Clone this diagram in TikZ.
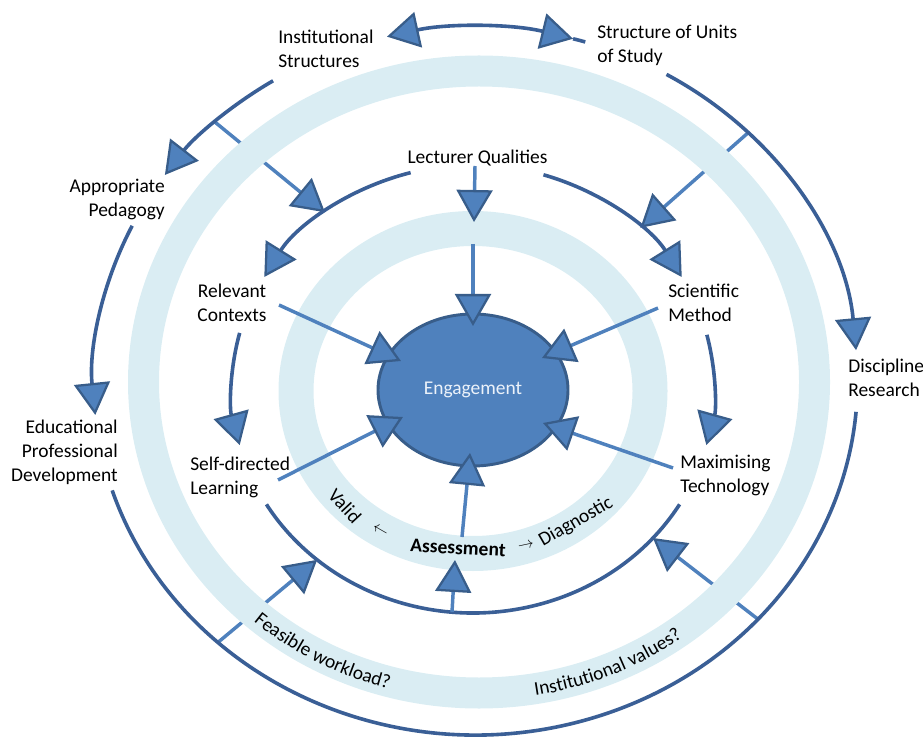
\documentclass[tikz,border=0pt]{standalone}
\usepackage{fontspec}
\setmainfont{Carlito}
\usetikzlibrary{arrows.meta,decorations.text,calc,shapes.geometric}
\definecolor{ringc}{RGB}{58,95,150}
\definecolor{acc}{RGB}{79,129,189}
\definecolor{tipc}{RGB}{56,93,138}
\definecolor{bandc}{RGB}{218,237,243}
\definecolor{engtxt}{RGB}{236,242,250}
\newcommand{\lblfont}{\fontsize{14.6}{18}\selectfont}
\tikzset{
  ring/.style={draw=ringc, line width=2.7pt},
  conn/.style={draw=acc, line width=2.6pt},
  tipd/.style={-{Triangle[length=24pt,width=27pt,fill=acc,color=tipc,line width=1.7pt]}},
  tipdd/.style={{Triangle[length=24pt,width=27pt,fill=acc,color=tipc,line width=1.7pt]}-{Triangle[length=24pt,width=27pt,fill=acc,color=tipc,line width=1.7pt]}},
  lbl/.style={font=\lblfont, inner sep=0pt, text=black},
  bandtext/.style={decorate, decoration={text along path, text align=center, text={|\lblfont|#1}}},
}
\begin{document}
\begin{tikzpicture}[x=0.75pt,y=-0.75pt]
\useasboundingbox (0,0) rectangle (923,737);
% centres of the rings
\coordinate (O1) at (475.5,381);
\coordinate (OB) at (479,382);
\coordinate (M)  at (473,389);
\coordinate (IB) at (473,391);

% tick connectors from the outer ring to the middle ring (under the outer band)
\coordinate (t1a) at ($(O1)+(-133:382 and 354)$);
\coordinate (t1d) at ($(M)+(-127.9:241 and 224)$);
\coordinate (t2a) at ($(O1)+(-44.5:382 and 354)$);
\coordinate (t2d) at ($(M)+(-46:241 and 224)$);
\coordinate (t3a) at ($(O1)+(132.4:382 and 354)$);
\coordinate (t3d) at ($(M)+(130.3:241 and 224)$);
\coordinate (t4a) at ($(O1)+(42.3:382 and 354)$);
\coordinate (t4d) at ($(M)+(41.7:241 and 224)$);
\draw[conn, tipd] (t1a) -- (t1d);
\draw[conn, tipd] (t2a) -- (t2d);
\draw[conn, tipd] (t3a) -- (t3d);
\draw[conn, tipd] (t4a) -- (t4d);

% light bands
\draw[draw=bandc, line width=23.25pt] (OB) ellipse [x radius=335.5, y radius=311];
\draw[draw=bandc, line width=26.25pt] (IB) ellipse [x radius=177, y radius=162.5];

% outer ring
\draw[ring, tipdd] ($(O1)+(-103.4:382 and 354)$) arc[start angle=-103.4, end angle=-75.2, x radius=382, y radius=354];
\draw[ring] ($(O1)+(-75.2:382 and 354)$) arc[start angle=-75.2, end angle=-73.3, x radius=382, y radius=354];
\draw[ring, tipd] ($(O1)+(-122:382 and 354)$) arc[start angle=-122, end angle=-144.4, x radius=382, y radius=354];
\draw[ring, tipd] ($(O1)+(-154:382 and 354)$) arc[start angle=-154, end angle=-185.5, x radius=382, y radius=354];
\draw[ring] ($(O1)+(-198:382 and 354)$) arc[start angle=-198, end angle=-355, x radius=382, y radius=354];
\draw[ring, tipd] ($(O1)+(-60:382 and 354)$) arc[start angle=-60, end angle=-5, x radius=382, y radius=354];

% middle ring
\draw[ring, tipd] ($(M)+(-105:241 and 224)$) arc[start angle=-105, end angle=-150, x radius=241, y radius=224];
\draw[ring, tipd] ($(M)+(-73:241 and 224)$) arc[start angle=-73, end angle=-30, x radius=241, y radius=224];
\draw[ring, tipd] ($(M)+(-14:241 and 224)$) arc[start angle=-14, end angle=14.5, x radius=241, y radius=224];
\draw[ring] ($(M)+(31:241 and 224)$) arc[start angle=31, end angle=149, x radius=241, y radius=224];
\draw[ring, tipd] ($(M)+(-165.5:241 and 224)$) arc[start angle=-165.5, end angle=-194.5, x radius=241, y radius=224];

% texts on the outer band
\path[bandtext={Feasible workload?}] ($(OB)+(146:342.5 and 318)$) arc[start angle=146, end angle=91, x radius=342.5, y radius=318];
\path[bandtext={Institutional values?}] ($(OB)+(94.3:342.5 and 318)$) arc[start angle=94.3, end angle=39.3, x radius=342.5, y radius=318];

% texts on the inner band
\node[lbl, rotate=-47] (valid) at (345,506) {Valid};
\node[lbl, font=\fontsize{13}{15}\selectfont, rotate=-30] (larr) at (380,531) {$\leftarrow$};
\node[lbl, font=\lblfont\bfseries, rotate=-3] (assess) at (458,548) {Assessment};
\node[lbl, font=\fontsize{13}{15}\selectfont, rotate=12] (rarr) at (526,546) {$\rightarrow$};
\node[lbl, rotate=30] (diag) at (576,522) {Diagnostic};

% engagement
\node[ellipse, draw=tipc, fill=acc, line width=2.2pt, minimum width=142.5pt, minimum height=114pt, inner sep=0pt, font=\lblfont, text=engtxt] (eng) at (473,390) {Engagement};

% connectors to engagement
\coordinate (lq1) at (475,166);  \coordinate (lq2) at (474,222);
\coordinate (lq3) at (473,244);  \coordinate (lq4) at (473,326);
\coordinate (rc1) at (279,305);  \coordinate (rc2) at (401,361);
\coordinate (sm1) at (658,308);  \coordinate (sm2) at (542,358);
\coordinate (sd1) at (278,480);  \coordinate (sd2) at (403,417);
\coordinate (mt1) at (673,468);  \coordinate (mt2) at (543,423);
\coordinate (as1) at (462,537);  \coordinate (as2) at (470,453);
\coordinate (mb1) at ($(M)+(95:241 and 224)$); \coordinate (mb2) at (455,560);
\draw[conn, tipd] (lq1) -- (lq2);
\draw[conn, tipd] (lq3) -- (lq4);
\draw[conn, tipd] (rc1) -- (rc2);
\draw[conn, tipd] (sm1) -- (sm2);
\draw[conn, tipd] (sd1) -- (sd2);
\draw[conn, tipd] (mt1) -- (mt2);
\draw[conn, tipd] (as1) -- (as2);
\draw[conn, tipd] (mb1) -- (mb2);

% labels
\node[lbl, align=left, anchor=west] (inst) at (278,49) {Institutional\\Structures};
\node[lbl, align=left, anchor=west] (units) at (597,45) {Structure of Units\\of Study};
\node[lbl] (lq) at (477.5,158) {Lecturer Qualities};
\node[lbl, align=right, anchor=east] (ap) at (165,199) {Appropriate\\Pedagogy};
\node[lbl, align=right, anchor=east] (epd) at (118,452) {Educational\\Professional\\Development};
\node[lbl, align=center] (rc) at (232,303) {Relevant\\Contexts};
\node[lbl, align=left, anchor=west] (sdl) at (190,477) {Self-directed\\Learning};
\node[lbl, align=left, anchor=west] (sm) at (668,303) {Scientific\\Method};
\node[lbl, align=left, anchor=west] (mt) at (680,475) {Maximising\\Technology};
\node[lbl, align=left, anchor=west] (dr) at (848,378) {Discipline\\Research};
\end{tikzpicture}
\end{document}
